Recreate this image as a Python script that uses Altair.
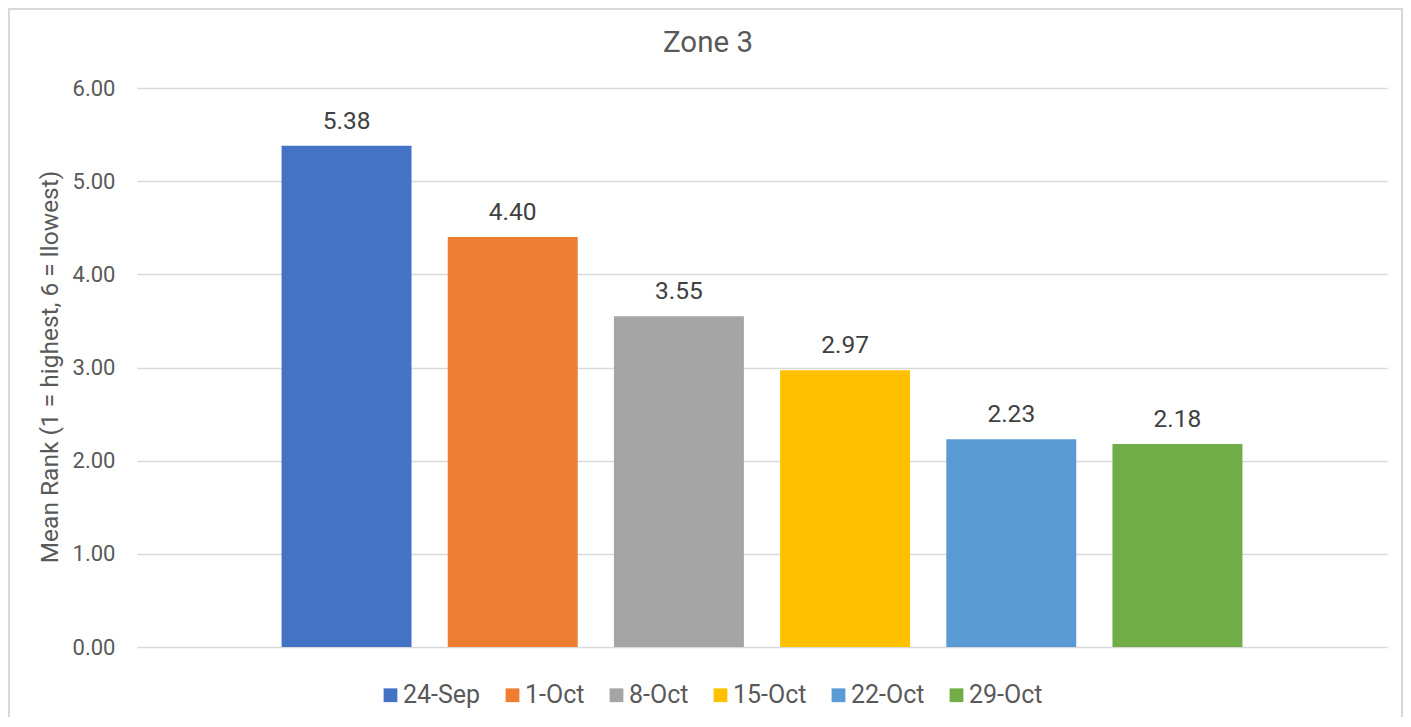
import altair as alt
import pandas as pd

dates = ["24-Sep", "1-Oct", "8-Oct", "15-Oct", "22-Oct", "29-Oct"]
mean_rank = [5.38, 4.40, 3.55, 2.97, 2.23, 2.18]
colors = ["#4472C4", "#ED7D31", "#A5A5A5", "#FFC000", "#5B9BD5", "#70AD47"]
y_ticks = [0, 1, 2, 3, 4, 5, 6]

df = pd.DataFrame({"date": dates, "rank": mean_rank})

FONT = "Roboto"
W, H = 1250, 559

x = alt.X("date:N", sort=dates, axis=None,
          scale=alt.Scale(paddingInner=0.218, paddingOuter=0.87))
y = alt.Y("rank:Q",
          scale=alt.Scale(domain=[0, 6], nice=False),
          axis=alt.Axis(values=y_ticks, format=".2f", title="Mean Rank (1 = highest, 6 = llowest)",
                        domain=False, ticks=False, gridColor="#D9D9D9", gridWidth=1.3,
                        labelColor="#595959", labelFont=FONT, labelFontSize=22, labelPadding=22,
                        titleColor="#595959", titleFont=FONT, titleFontSize=24.5, titleFontWeight="normal",
                        titleAngle=270, titleX=-87, titleY=H / 2 - 1, titleAlign="center",
                        titleBaseline="middle"))

bars = alt.Chart(df).mark_bar().encode(
    x=x, y=y,
    color=alt.Color("date:N", sort=dates,
                    scale=alt.Scale(domain=dates, range=colors),
                    legend=alt.Legend(title=None, orient="none", direction="horizontal",
                                      legendX=241, legendY=594.5, padding=0,
                                      symbolType="square", symbolSize=190, symbolStrokeWidth=0,
                                      symbolOpacity=1,
                                      labelFont=FONT, labelFontSize=25, labelColor="#595959",
                                      labelOffset=0, columnPadding=19)),
)

labels = alt.Chart(df).mark_text(baseline="alphabetic", dy=-17, font=FONT, fontSize=24.5,
                                 color="#404040").encode(
    x=x, y=y, text=alt.Text("rank:Q", format=".2f"))

border = alt.Chart(df).mark_rect(fill=None, stroke="#D9D9D9", strokeWidth=1.5).encode(
    x=alt.value(-128), x2=alt.value(1265), y=alt.value(-79), y2=alt.value(645))

chart = alt.layer(border, bars, labels).properties(
    width=W, height=H,
    title=alt.Title("Zone 3", font=FONT, fontSize=29.5, fontWeight="normal", color="#595959",
                    anchor="middle", dx=-54, offset=0, baseline="alphabetic", dy=73),
    autosize=alt.AutoSizeParams(type="none"),
    padding={"left": 129, "top": 80, "right": 16, "bottom": 70},
).configure(background="white").configure_view(stroke=None)

chart.save("out.html", embed_options={"renderer": "svg", "actions": False})
